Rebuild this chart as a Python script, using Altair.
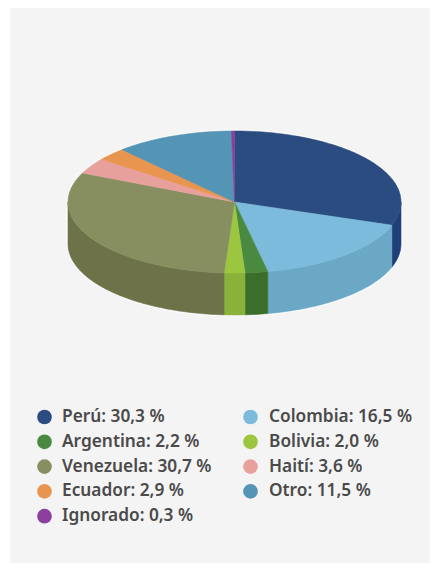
import math
import altair as alt
import pandas as pd

paises = ["Perú", "Colombia", "Argentina", "Bolivia", "Venezuela", "Haití", "Ecuador", "Otro", "Ignorado"]
porcentajes = [30.3, 16.5, 2.2, 2.0, 30.7, 3.6, 2.9, 11.5, 0.3]
etiquetas = ["30,3 %", "16,5 %", "2,2 %", "2,0 %", "30,7 %", "3,6 %", "2,9 %", "11,5 %", "0,3 %"]
colores_top = ["#2a4c80", "#7cbbdb", "#4a8a40", "#9cc640", "#878f60", "#e8a09c", "#e8964f", "#5494b5", "#8b3f9e"]
colores_lado = ["#1f3f78", "#6aa8c6", "#3b6e2b", "#8ab23a", "#6d7248", "#c98a86", "#c88044", "#47809d", "#773588"]
leyenda_col = [0, 1, 0, 1, 0, 1, 0, 1, 0]
leyenda_fila = [0, 0, 1, 1, 2, 2, 3, 3, 4]

CX, CY, RX, RY, DEPTH = 234.5, 202, 166.5, 71, 42
W, H = 420, 555
X0, Y0 = 10, 8

x_scale = alt.Scale(domain=[X0, X0 + W], range=[0, W], nice=False, zero=False)
y_scale = alt.Scale(domain=[Y0, Y0 + H], range=[0, H], nice=False, zero=False)


def rim(a0, a1, dy=0.0):
    n = max(2, int(math.ceil((a1 - a0) / 1.0)) + 1)
    pts = []
    for i in range(n):
        a = math.radians(a0 + (a1 - a0) * i / (n - 1))
        pts.append((CX + RX * math.sin(a), CY - RY * math.cos(a) + dy))
    return pts


def poly(points, color, width=0.6, fill=True, opacity=1.0):
    df = pd.DataFrame(points, columns=["px", "py"])
    df["ord"] = range(len(df))
    kw = dict(stroke=color, strokeWidth=width, strokeOpacity=opacity, strokeJoin="round")
    if fill:
        kw["fill"] = color
    return alt.Chart(df).mark_line(**kw).encode(
        x=alt.X("px:Q", scale=x_scale, axis=None),
        y=alt.Y("py:Q", scale=y_scale, axis=None),
        order="ord:Q",
    )


layers = []
halo = rim(90, 270, DEPTH) + rim(270, 450)
halo.append(halo[0])
layers.append(poly(halo, "#ffffff", width=3, fill=False, opacity=0.8))

acum = 0.0
tops = []
for share, ct, cl in zip(porcentajes, colores_top, colores_lado):
    a0 = acum * 3.6
    a1 = (acum + share) * 3.6
    acum += share
    s0, s1 = max(a0, 90), min(a1, 270)
    if s1 > s0:
        upper = rim(s0, s1)
        lower = rim(s0, s1, DEPTH)[::-1]
        layers.append(poly(upper + lower + [upper[0]], cl))
    c = (CX, CY)
    tops.append(poly([c] + rim(a0, a1) + [c], ct))
layers += tops

leg = pd.DataFrame({
    "pais": paises,
    "col": leyenda_col,
    "fila": leyenda_fila,
    "texto": [f"{p}: {e}" for p, e in zip(paises, etiquetas)],
})
leg["lx"] = leg["col"].map({0: 44.5, 1: 250.5})
leg["ly"] = 417 + leg["fila"] * 24.8
leg["tx"] = leg["col"].map({0: 62, 1: 269})

dots = alt.Chart(leg).mark_point(filled=True, size=215, opacity=1).encode(
    x=alt.X("lx:Q", scale=x_scale, axis=None),
    y=alt.Y("ly:Q", scale=y_scale, axis=None),
    color=alt.Color("pais:N", scale=alt.Scale(domain=paises, range=colores_top), legend=None),
)
texts = alt.Chart(leg).mark_text(
    align="left", baseline="middle", font="Noto Sans", fontWeight=600, fontSize=17.3, color="#4a4a4a"
).encode(
    x=alt.X("tx:Q", scale=x_scale, axis=None),
    y=alt.Y("ly:Q", scale=y_scale, axis=None),
    text="texto:N",
)
layers += [dots, texts]

chart = alt.layer(*layers).properties(
    width=W,
    height=H,
    padding={"left": 2, "top": 0, "right": 0, "bottom": 0},
    background="#ffffff",
    autosize=alt.AutoSizeParams(type="none"),
).configure_view(fill="#f4f4f4", stroke=None)

chart.save("out.html", embed_options={"renderer": "svg", "actions": False})
